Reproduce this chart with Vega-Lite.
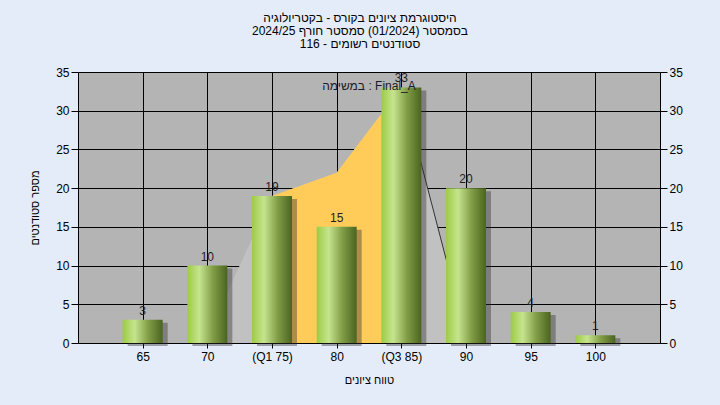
{
  "$schema": "https://vega.github.io/schema/vega-lite/v6.json",
  "width": 582,
  "height": 271,
  "autosize": {"type": "none"},
  "padding": {"left": 78, "top": 72, "right": 60, "bottom": 62},
  "background": "#e3ecf8",
  "title": {
    "text": ["\u202bהיסטוגרמת ציונים בקורס - בקטריולוגיה\u202c", "\u202bבסמסטר  (01/2024)  סמסטר חורף 2024/25\u202c", "\u202bסטודנטים רשומים - 116\u202c"],
    "font": "Liberation Sans",
    "fontSize": 12,
    "fontWeight": "normal",
    "color": "#000000",
    "lineHeight": 13,
    "offset": 15,
    "dx": -9,
    "anchor": "middle"
  },
  "config": {
    "view": {"fill": "#b4b4b4", "stroke": null},
    "axis": {
      "domainColor": "#000000",
      "tickColor": "#000000",
      "labelColor": "#000000",
      "labelFont": "Liberation Sans",
      "labelFontSize": 12,
      "titleFont": "Liberation Sans",
      "titleFontSize": 11,
      "titleFontWeight": "normal",
      "titleColor": "#000000",
      "gridColor": "#000000",
      "gridOpacity": 1,
      "gridWidth": 1
    }
  },
  "datasets": {
    "bars": [
      {"grade": 65, "count": 3},
      {"grade": 70, "count": 10},
      {"grade": 75, "count": 19},
      {"grade": 80, "count": 15},
      {"grade": 85, "count": 33},
      {"grade": 90, "count": 20},
      {"grade": 95, "count": 4},
      {"grade": 100, "count": 1}
    ],
    "curve": [
      {"grade": 70, "v": 1},
      {"grade": 75, "v": 19},
      {"grade": 80, "v": 22},
      {"grade": 85, "v": 33},
      {"grade": 90, "v": 1}
    ]
  },
  "layer": [
    {
      "data": {"name": "curve"},
      "mark": {"type": "area", "color": "#c1c1c1"},
      "encoding": {
        "x": {
          "field": "grade", "type": "quantitative",
          "scale": {"domain": [60, 105], "nice": false, "zero": false, "padding": 0},
          "axis": {
            "title": "טווח ציונים",
            "values": [65, 70, 75, 80, 85, 90, 95, 100],
            "labelExpr": "datum.value == 75 ? '(Q1 75)' : datum.value == 85 ? '(Q3 85)' : datum.label",
            "tickSize": 5,
            "labelPadding": 3,
            "titlePadding": 12,
            "grid": true
          }
        },
        "y": {
          "field": "v", "type": "quantitative",
          "scale": {"domain": [0, 35], "nice": false},
          "axis": {
            "orient": "left",
            "title": "מספר סטודנטים",
            "values": [0, 5, 10, 15, 20, 25, 30, 35],
            "tickSize": 7,
            "labelPadding": 2,
            "titlePadding": 15,
            "grid": true
          }
        }
      }
    },
    {
      "data": {"name": "curve"},
      "transform": [{"filter": "datum.grade >= 75 && datum.grade <= 85"}],
      "mark": {"type": "area", "color": "#ffcc5a"},
      "encoding": {
        "x": {"field": "grade", "type": "quantitative"},
        "y": {"field": "v", "type": "quantitative", "axis": null}
      }
    },
    {
      "data": {"name": "curve"},
      "transform": [{"filter": "datum.grade >= 85"}],
      "mark": {"type": "line", "color": "#333333", "strokeWidth": 1},
      "encoding": {
        "x": {"field": "grade", "type": "quantitative"},
        "y": {"field": "v", "type": "quantitative", "axis": null}
      }
    },
    {
      "data": {"name": "bars"},
      "mark": {"type": "bar", "width": 40, "color": "#2e2e2e", "opacity": 0.4, "xOffset": 5, "yOffset": 3},
      "encoding": {
        "x": {"field": "grade", "type": "quantitative"},
        "y": {"field": "count", "type": "quantitative", "axis": null}
      }
    },
    {
      "data": {"name": "bars"},
      "mark": {
        "type": "bar",
        "width": 40,
        "fill": {
          "gradient": "linear",
          "x1": 0, "y1": 0, "x2": 1, "y2": 0,
          "stops": [
            {"offset": 0, "color": "#9ccb45"},
            {"offset": 0.3, "color": "#c6e48e"},
            {"offset": 0.65, "color": "#7f9c45"},
            {"offset": 1, "color": "#4a6420"}
          ]
        }
      },
      "encoding": {
        "x": {"field": "grade", "type": "quantitative"},
        "y": {
          "field": "count", "type": "quantitative",
          "axis": {
            "orient": "right",
            "title": null,
            "values": [0, 5, 10, 15, 20, 25, 30, 35],
            "tickSize": 7,
            "labelPadding": 2,
            "grid": false
          }
        }
      }
    },
    {
      "data": {"name": "bars"},
      "mark": {"type": "text", "baseline": "bottom", "dy": -2, "font": "Liberation Sans", "fontSize": 12, "color": "#1e1e1e"},
      "encoding": {
        "x": {"field": "grade", "type": "quantitative"},
        "y": {"field": "count", "type": "quantitative", "axis": null},
        "text": {"field": "count", "type": "quantitative"}
      }
    },
    {
      "data": {"values": [{"label": "במשימה : Final_A"}]},
      "mark": {"type": "text", "font": "Liberation Sans", "fontSize": 12, "color": "#1a1a2a"},
      "encoding": {
        "x": {"datum": 82.5, "type": "quantitative"},
        "y": {"datum": 33.2, "type": "quantitative", "axis": null},
        "text": {"field": "label"}
      }
    }
  ],
  "resolve": {"axis": {"y": "independent"}}
}
